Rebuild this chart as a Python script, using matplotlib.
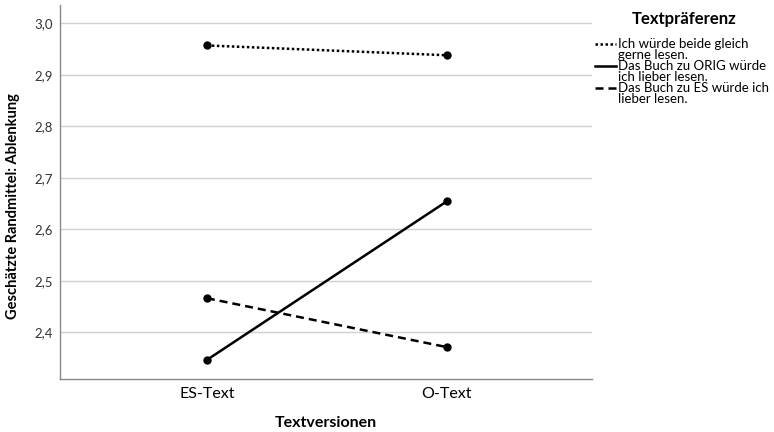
import matplotlib
matplotlib.use("Agg")
import matplotlib.pyplot as plt
from matplotlib.lines import Line2D

plt.rcParams['font.family'] = ['Lato', 'DejaVu Sans']

categories = ["ES-Text", "O-Text"]
series_names = [
    "Ich würde beide gleich\ngerne lesen.",
    "Das Buch zu ORIG würde\nich lieber lesen.",
    "Das Buch zu ES würde ich\nlieber lesen.",
]
values_gleich = [2.957, 2.938]
values_orig = [2.346, 2.654]
values_es = [2.466, 2.371]
yticks = [2.4, 2.5, 2.6, 2.7, 2.8, 2.9, 3.0]

W, H = 774, 432
fig = plt.figure(figsize=(W / 100, H / 100), dpi=100)
ax = fig.add_axes([0.0775, 0.1227, 0.688, 0.865])

x = list(range(len(categories)))
styles = [(0, (1, 1)), "-", (0, (3.2, 2.0))]
lw = 1.8
for vals, ls in zip([values_gleich, values_orig, values_es], styles):
    ax.plot(x, vals, color="black", linestyle=ls, linewidth=lw,
            marker="o", markersize=5, zorder=3)

ax.set_xlim(-0.6125, 1.608)
ax.set_ylim(2.309, 3.035)
ax.set_xticks(x)
ax.set_xticklabels(categories, fontsize=11.5)
ax.set_yticks(yticks)
ax.set_yticklabels([f"{v:.1f}".replace(".", ",") for v in yticks], fontsize=9.5)
ax.tick_params(length=0)
ax.tick_params(axis="y", pad=5, colors="#333333")
ax.tick_params(axis="x", pad=6, colors="black")

ax.grid(axis="y", color="#d0d0d0", linewidth=1.0)
ax.set_axisbelow(True)
for side in ["top", "right"]:
    ax.spines[side].set_visible(False)
for side in ["left", "bottom"]:
    ax.spines[side].set_color("#888888")
    ax.spines[side].set_linewidth(1.0)

ax.set_xlabel("Textversionen", fontsize=11.5, fontweight="bold")
ax.xaxis.set_label_coords(0.5, -0.099)
ax.set_ylabel("Geschätzte Randmittel: Ablenkung", fontsize=10.5, fontweight="bold")
ax.yaxis.set_label_coords(-0.075, 0.463)

# Legend drawn by hand: handle aligned with the first line of each wrapped label
fig.text(684 / W, 1 - 19 / H, "Textpräferenz", fontsize=12, fontweight="bold",
         ha="center", va="center")
first_line_y = [44, 66, 88]
for name, ls, yy in zip(series_names, styles, first_line_y):
    fy = 1 - yy / H
    fig.add_artist(Line2D([595 / W, 616 / W], [fy, fy], color="black",
                          linestyle=ls, linewidth=lw, transform=fig.transFigure))
    fig.text(618 / W, 1 - (yy - 6) / H, name, fontsize=9.5, ha="left", va="top",
             linespacing=0.9)

fig.savefig("out.png", dpi=100)
